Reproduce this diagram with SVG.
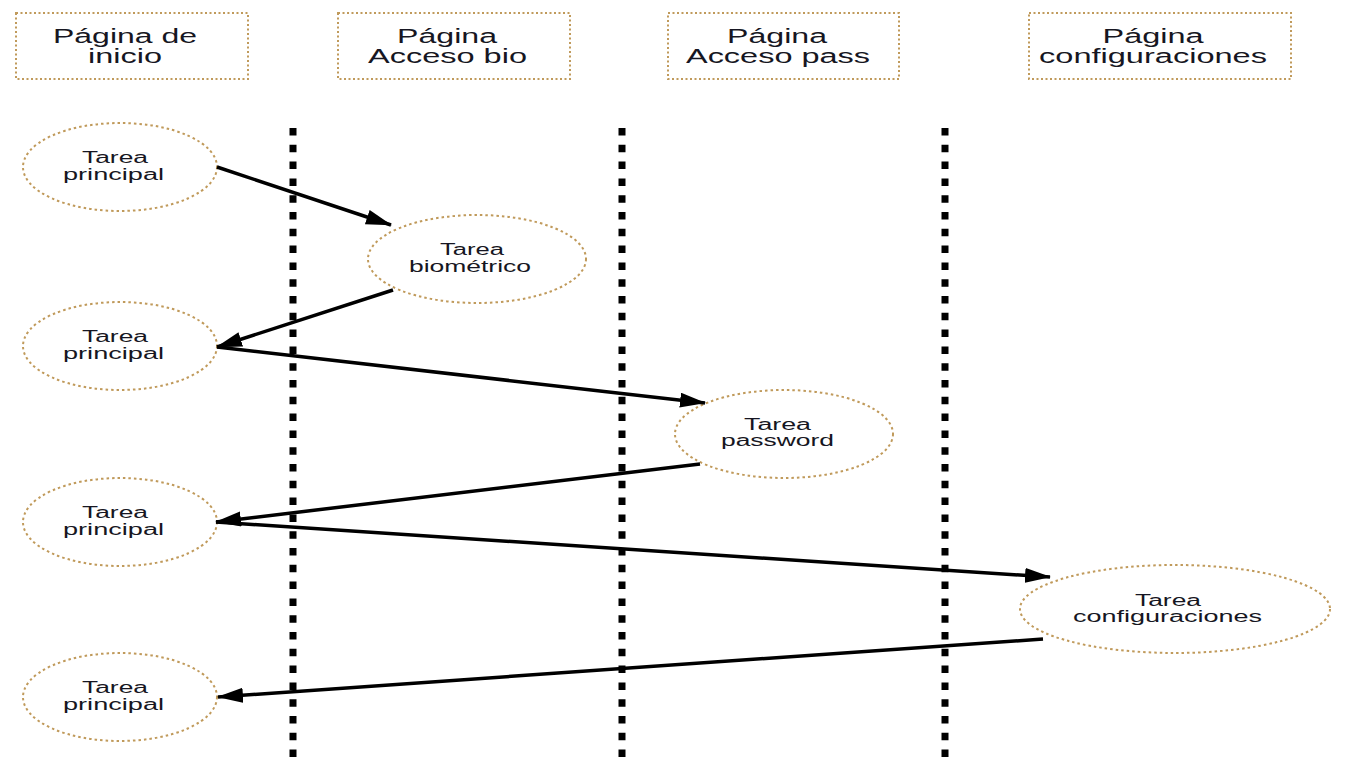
<svg xmlns="http://www.w3.org/2000/svg" width="1366" height="768" viewBox="0 0 1366 768">
<style>
.box{fill:none;stroke:#c09a5b;stroke-width:2;stroke-dasharray:2 2.5}
.node{fill:none;stroke:#c09a5b;stroke-width:2;stroke-dasharray:2.5 3}
.ht{font-family:"Liberation Sans",Arial,sans-serif;font-size:20px;fill:#161622;text-anchor:middle}
.nt{font-family:"Liberation Sans",Arial,sans-serif;font-size:16px;fill:#161622;text-anchor:middle}
.life{stroke:#000;stroke-width:7;stroke-dasharray:7.5 9.3;fill:none}
.edge{stroke:#000;stroke-width:3.5;fill:none;marker-end:url(#arr)}
</style>
<defs>
<marker id="arr" markerUnits="userSpaceOnUse" markerWidth="28" markerHeight="16" refX="25" refY="7.5" orient="auto">
<path d="M0,0 L26,7.5 L0,15 z" fill="#000"/>
</marker>
</defs>
<rect width="1366" height="768" fill="#fff"/>

<g id="lanes">
<g id="lane-inicio"><rect class="box" x="16" y="13" width="232" height="66"/>
<text class="ht" x="125" y="43" textLength="144" lengthAdjust="spacingAndGlyphs">Página de</text>
<text class="ht" x="125" y="63" textLength="74" lengthAdjust="spacingAndGlyphs">inicio</text></g>
<g id="lane-bio"><rect class="box" x="338" y="13" width="232" height="66"/>
<text class="ht" x="447" y="43" textLength="100" lengthAdjust="spacingAndGlyphs">Página</text>
<text class="ht" x="447.5" y="63" textLength="159" lengthAdjust="spacingAndGlyphs">Acceso bio</text></g>
<g id="lane-pass"><rect class="box" x="668" y="13" width="231" height="66"/>
<text class="ht" x="777" y="43" textLength="100" lengthAdjust="spacingAndGlyphs">Página</text>
<text class="ht" x="778" y="63" textLength="184" lengthAdjust="spacingAndGlyphs">Acceso pass</text></g>
<g id="lane-config"><rect class="box" x="1029" y="13" width="262" height="66"/>
<text class="ht" x="1153" y="43" textLength="101" lengthAdjust="spacingAndGlyphs">Página</text>
<text class="ht" x="1153" y="63" textLength="228" lengthAdjust="spacingAndGlyphs">configuraciones</text></g>
</g>

<g id="lifelines">
<line class="life" x1="293" y1="128" x2="293" y2="758"/>
<line class="life" x1="622" y1="128" x2="622" y2="758"/>
<line class="life" x1="945" y1="128" x2="945" y2="758"/>
</g>

<g id="n1"><ellipse class="node" cx="120" cy="167" rx="97" ry="44"/>
<text class="nt" x="115" y="163" textLength="66" lengthAdjust="spacingAndGlyphs">Tarea</text>
<text class="nt" x="113.5" y="180" textLength="101" lengthAdjust="spacingAndGlyphs">principal</text></g>
<g id="n2"><ellipse class="node" cx="477" cy="259" rx="109" ry="44"/>
<text class="nt" x="472" y="255" textLength="64" lengthAdjust="spacingAndGlyphs">Tarea</text>
<text class="nt" x="470" y="272" textLength="122" lengthAdjust="spacingAndGlyphs">biométrico</text></g>
<g id="n3"><ellipse class="node" cx="120" cy="346" rx="97" ry="44"/>
<text class="nt" x="115" y="342" textLength="66" lengthAdjust="spacingAndGlyphs">Tarea</text>
<text class="nt" x="113.5" y="359" textLength="101" lengthAdjust="spacingAndGlyphs">principal</text></g>
<g id="n4"><ellipse class="node" cx="784" cy="434" rx="109" ry="44"/>
<text class="nt" x="777.5" y="430" textLength="67" lengthAdjust="spacingAndGlyphs">Tarea</text>
<text class="nt" x="777.5" y="446" textLength="113" lengthAdjust="spacingAndGlyphs">password</text></g>
<g id="n5"><ellipse class="node" cx="120" cy="522" rx="97" ry="44"/>
<text class="nt" x="115" y="518" textLength="66" lengthAdjust="spacingAndGlyphs">Tarea</text>
<text class="nt" x="113.5" y="535" textLength="101" lengthAdjust="spacingAndGlyphs">principal</text></g>
<g id="n6"><ellipse class="node" cx="1175" cy="609" rx="155" ry="44"/>
<text class="nt" x="1168" y="606" textLength="66" lengthAdjust="spacingAndGlyphs">Tarea</text>
<text class="nt" x="1167.5" y="622" textLength="189" lengthAdjust="spacingAndGlyphs">configuraciones</text></g>
<g id="n7"><ellipse class="node" cx="120" cy="697" rx="97" ry="44"/>
<text class="nt" x="115" y="693" textLength="66" lengthAdjust="spacingAndGlyphs">Tarea</text>
<text class="nt" x="113.5" y="710" textLength="101" lengthAdjust="spacingAndGlyphs">principal</text></g>

<g id="connectors">
<line class="edge" x1="217" y1="167" x2="391" y2="225"/>
<line class="edge" x1="393" y1="290" x2="217" y2="347"/>
<line class="edge" x1="217" y1="347" x2="705" y2="403"/>
<line class="edge" x1="700" y1="464" x2="216" y2="522"/>
<line class="edge" x1="216" y1="522" x2="1050" y2="577"/>
<line class="edge" x1="1043" y1="639" x2="218" y2="697"/>
</g>
</svg>
